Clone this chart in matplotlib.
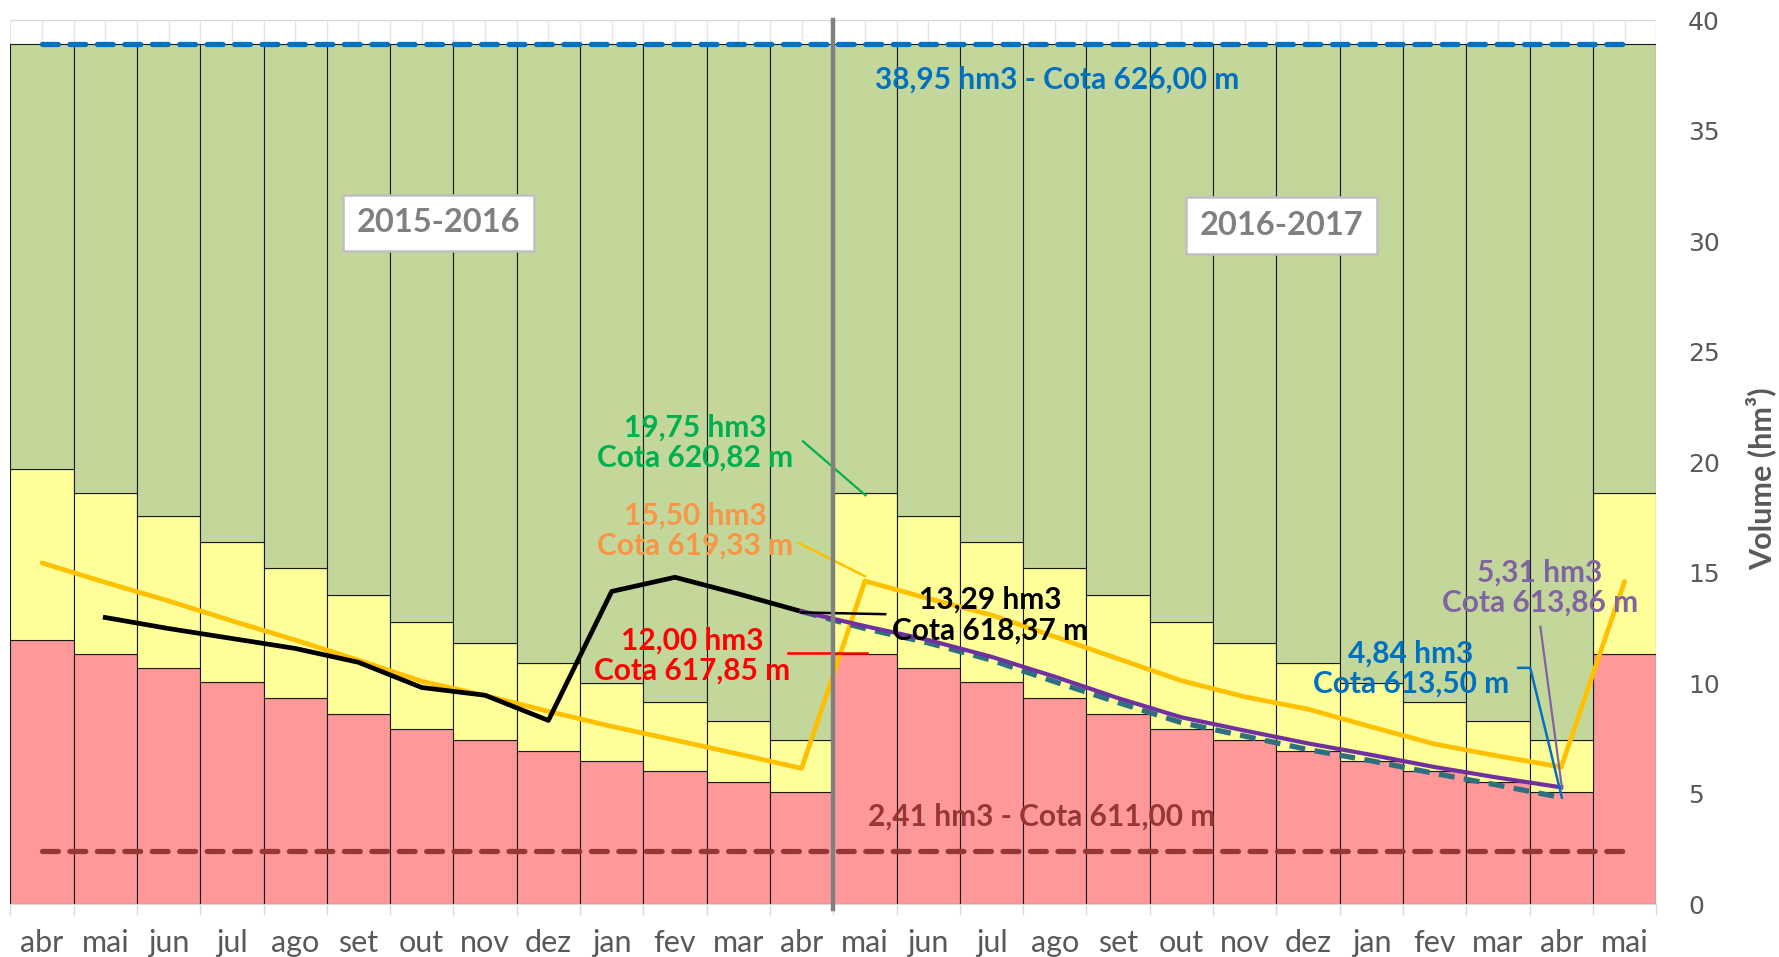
import matplotlib
matplotlib.use("Agg")
import matplotlib.pyplot as plt
import numpy as np

# ---------------- data ----------------
months = ['abr', 'mai', 'jun', 'jul', 'ago', 'set', 'out', 'nov', 'dez', 'jan', 'fev', 'mar', 'abr',
          'mai', 'jun', 'jul', 'ago', 'set', 'out', 'nov', 'dez', 'jan', 'fev', 'mar', 'abr', 'mai']

red_volume = [11.93, 11.31, 10.68, 10.06, 9.34, 8.60, 7.93, 7.41, 6.94, 6.47, 6.01, 5.53, 5.07,
              11.31, 10.68, 10.06, 9.34, 8.60, 7.93, 7.41, 6.94, 6.47, 6.01, 5.53, 5.07, 11.31]
yellow_volume = [19.71, 18.62, 17.56, 16.40, 15.21, 13.97, 12.77, 11.82, 10.89, 10.01, 9.13, 8.30, 7.41,
                 18.62, 17.56, 16.40, 15.21, 13.97, 12.77, 11.82, 10.89, 10.01, 9.13, 8.30, 7.41, 18.62]
capacity = 38.95
dead_volume = 2.41

curve_volume = [15.44, 14.56, 13.72, 12.82, 11.95, 11.04, 10.08, 9.44, 8.72, 8.04, 7.42, 6.79, 6.14,
                14.62, 13.83, 13.08, 12.10, 11.10, 10.11, 9.38, 8.82, 8.02, 7.24, 6.70, 6.20, 14.60]
observed_2015 = [12.97, 12.47, 12.02, 11.57, 10.94, 9.80, 9.45, 8.31, 14.15, 14.79, 14.04, 13.24]   # mai/15 .. abr/16
forecast_purple = [13.24, 12.58, 11.95, 11.19, 10.29, 9.32, 8.45, 7.85, 7.27, 6.75, 6.20, 5.72, 5.28]  # abr/16 .. abr/17
forecast_teal = [13.24, 12.47, 11.82, 11.04, 10.06, 9.12, 8.21, 7.60, 6.99, 6.48, 5.91, 5.38, 4.82]

# ---------------- figure ----------------
plt.rcParams['font.family'] = ['Lato', 'DejaVu Sans']
W, H = 1779, 957
fig = plt.figure(figsize=(W / 100, H / 100), dpi=100)
ax = fig.add_axes([10.3 / W, (H - 904) / H, (1656.2 - 10.3) / W, (904 - 20.4) / H])

x = np.arange(len(months))
red = np.array(red_volume)
yel = np.array(yellow_volume)
cap = np.full(len(months), capacity)

edge = dict(edgecolor='#1a1a1a', linewidth=0.8, width=1.0, zorder=2)
ax.bar(x, red, color='#FF9999', **edge)
ax.bar(x, yel - red, bottom=red, color='#FFFF99', **edge)
ax.bar(x, cap - yel, bottom=yel, color='#C4D79B', **edge)

# reference lines
ax.plot(x, cap, color='#0070C0', lw=3.8, ls=(0, (3.0, 2.2)), dash_capstyle='round', zorder=4)
ax.plot(x, np.full(len(months), dead_volume), color='#953735', lw=3.8, ls=(0, (3.0, 2.2)),
        dash_capstyle='round', zorder=4)

# series lines
ax.plot(x, curve_volume, color='#FFC000', lw=3.4, solid_joinstyle='round', solid_capstyle='round', zorder=5)
ax.plot(x[1:13], observed_2015, color='black', lw=3.4, solid_joinstyle='round', zorder=5)
ax.plot(x[12:25], forecast_teal, color='#2E6F80', lw=3.8, ls=(0, (3.0, 1.8)), zorder=5)
ax.plot(x[12:25], forecast_purple, color='#7030A0', lw=3.0, solid_joinstyle='round', zorder=6)

# separator between hydrological years
ax.axvline(12.5, ymin=-0.006, ymax=1.0, color='#808080', lw=3.2, zorder=7, clip_on=False)

# leader lines for annotations
leaders = [
    ([12.02, 13.01], [20.95, 18.50], '#00B050', 1.6),
    ([11.95, 13.00], [16.35, 14.84], '#FFC000', 1.8),
    ([11.79, 13.03], [11.34, 11.34], '#FF0000', 1.8),
    ([12.00, 13.32], [13.20, 13.12], 'black', 1.8),
    ([23.32, 23.51, 24.01], [10.69, 10.69, 4.82], '#0070C0', 1.8),
    ([23.67, 24.01], [12.55, 5.28], '#8064A2', 1.6),
]
for lx, ly, c, lw in leaders:
    ax.plot(lx, ly, color=c, lw=lw, zorder=6)

# texts
fs = 21.5
txt = dict(ha='center', va='center', fontweight='bold', fontsize=fs, zorder=8, linespacing=1.1)
ax.text(16.03, 37.3, '38,95 hm3 - Cota 626,00 m', color='#0070C0', **txt)
ax.text(15.79, 3.94, '2,41 hm3 - Cota 611,00 m', color='#953735', **txt)
ax.text(10.32, 20.88, '19,75 hm3\nCota 620,82 m', color='#00B050', **txt)
ax.text(10.32, 16.90, '15,50 hm3\nCota 619,33 m', color='#F79646', **txt)
ax.text(10.27, 11.23, '12,00 hm3\nCota 617,85 m', color='#FF0000', **txt)
ax.text(14.98, 13.08, '13,29 hm3\nCota 618,37 m', color='black', **txt)
ax.text(21.62, 10.66, '4,84 hm3\nCota 613,50 m', color='#0070C0', **txt)
ax.text(23.66, 14.33, '5,31 hm3\nCota 613,86 m', color='#8064A2', **txt)

box = dict(boxstyle='square,pad=0.42', fc='white', ec='#BFBFBF', lw=1.8)
ax.text(6.27, 30.84, '2015-2016', color='#808080', ha='center', va='center', fontsize=23.5,
        fontweight='bold', bbox=box, zorder=8)
ax.text(19.58, 30.72, '2016-2017', color='#808080', ha='center', va='center', fontsize=23.5,
        fontweight='bold', bbox=box, zorder=8)

# axes styling
ax.set_xlim(-0.5, len(months) - 0.5)
ax.set_ylim(0, 40)
ax.set_xticks(x)
ax.set_xticklabels(months)
ax.set_xticks(np.arange(-0.5, len(months), 1.0), minor=True)
ax.tick_params(axis='x', which='major', length=0, pad=18, labelsize=22, labelcolor='#595959')
ax.tick_params(axis='x', which='minor', length=8, color='#D9D9D9', width=1)

ax.yaxis.tick_right()
ax.set_yticks(np.arange(0, 41, 5))
ax.tick_params(axis='y', which='both', length=0, pad=23, labelsize=18, labelcolor='#595959')
for lab in ax.get_yticklabels():
    lab.set_fontfamily('DejaVu Sans')

ax.grid(axis='y', color='#D9D9D9', lw=1.0, zorder=0)
ax.grid(axis='x', which='both', color='#E6E6E6', lw=1.0, zorder=0)
ax.set_axisbelow(True)

for s in ['top', 'left', 'right']:
    ax.spines[s].set_visible(False)
ax.spines['bottom'].set_color('#D9D9D9')

fig.text(1761 / W, 0.50, 'Volume (hm³)', fontsize=22, fontweight='bold', color='#595959',
         rotation=90, ha='center', va='center')

fig.savefig('out.png', dpi=100, facecolor='white')
